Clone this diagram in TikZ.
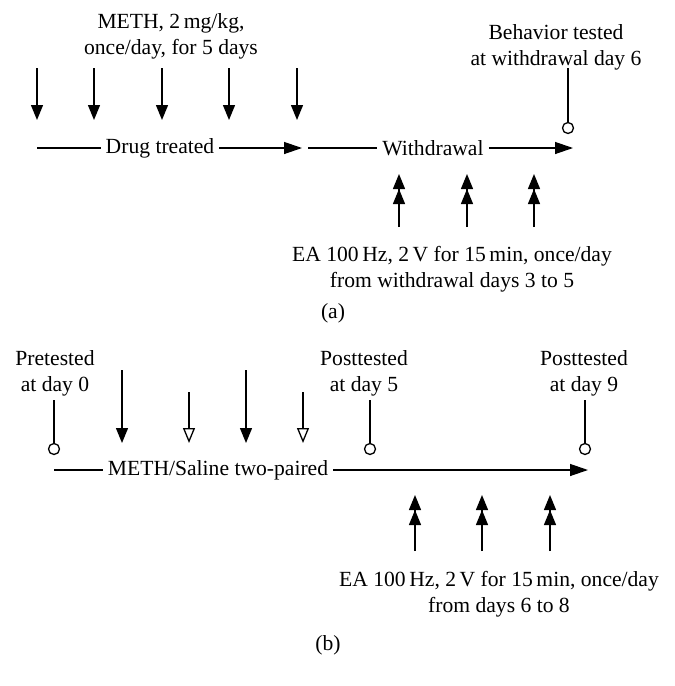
\documentclass[tikz,border=0pt]{standalone}
\usepackage{fontspec}
\setmainfont{Liberation Serif}
\usetikzlibrary{arrows.meta}

\begin{document}
\begin{tikzpicture}[x=1pt,y=-1pt]
		\tikzset{txt/.style = {font=\fontsize{21.6}{26}\selectfont, align=center, inner sep=0pt}}
		\tikzset{onaxis/.style = {font=\fontsize{21.6}{26}\selectfont, inner sep=5pt}}
		\tikzset{axis/.style = {line width=1.3pt}}
		\tikzset{axisarrow/.style = {line width=1.3pt, -{Triangle[length=18pt,width=12pt]}}}
		\tikzset{dose/.style = {line width=1.3pt, -{Triangle[length=15pt,width=12pt]}}}
		\tikzset{saline/.style = {line width=1.3pt, -{Triangle[open,length=15pt,width=12pt,fill=white]}}}
		\tikzset{ea/.style = {line width=1.3pt, -{Triangle[length=15pt,width=12pt]Triangle[length=15pt,width=12pt]}}}
		\tikzset{probe/.style = {circle, draw, line width=1.3pt, fill=white, minimum size=11pt, inner sep=0pt}}
		
		\useasboundingbox (0,0) rectangle (675,686);
		
		% (a)
		\node[txt]  (meth)  at (171,  36) {METH, 2\,mg/kg,\\once/day, for 5 days};
		\node[txt]  (behav) at (556,  47) {Behavior tested\\at withdrawal day 6};
		\node[txt]  (eaA)   at (452, 269) {EA 100\,Hz, 2\,V for 15\,min, once/day\\from withdrawal days 3 to 5};
		\node[txt]  (capA)  at (333, 313) {(a)};
		
		\coordinate (a0) at ( 37, 148);
		\coordinate (a1) at (302, 148);
		\coordinate (a2) at (308, 148);
		\coordinate (a3) at (573, 148);
		\node[onaxis] (drug) at (160, 148) {Drug treated};
		\node[onaxis] (wd)   at (433, 148) {Withdrawal};
		\draw[axis]      (a0) -- (drug);
		\draw[axisarrow] (drug) -- (a1);
		\draw[axis]      (a2) -- (wd);
		\draw[axisarrow] (wd) -- (a3);
		
		\coordinate (d1s) at ( 37,  68); \coordinate (d1e) at ( 37, 120);
		\coordinate (d2s) at ( 94,  68); \coordinate (d2e) at ( 94, 120);
		\coordinate (d3s) at (162,  68); \coordinate (d3e) at (162, 120);
		\coordinate (d4s) at (229,  68); \coordinate (d4e) at (229, 120);
		\coordinate (d5s) at (297,  68); \coordinate (d5e) at (297, 120);
		\draw[dose] (d1s) -- (d1e);
		\draw[dose] (d2s) -- (d2e);
		\draw[dose] (d3s) -- (d3e);
		\draw[dose] (d4s) -- (d4e);
		\draw[dose] (d5s) -- (d5e);
		
		\coordinate (t6) at (568,  68);
		\node[probe] (c6) at (568, 128) {};
		\draw[axis] (t6) -- (c6);
		
		\coordinate (e1s) at (399, 227); \coordinate (e1e) at (399, 174);
		\coordinate (e2s) at (467, 227); \coordinate (e2e) at (467, 174);
		\coordinate (e3s) at (534, 227); \coordinate (e3e) at (534, 174);
		\draw[ea] (e1s) -- (e1e);
		\draw[ea] (e2s) -- (e2e);
		\draw[ea] (e3s) -- (e3e);
		
		% (b)
		\node[txt]  (pre)   at ( 55, 373) {Pretested\\at day 0};
		\node[txt]  (post5) at (364, 373) {Posttested\\at day 5};
		\node[txt]  (post9) at (584, 373) {Posttested\\at day 9};
		\node[txt]  (eaB)   at (499, 594) {EA 100\,Hz, 2\,V for 15\,min, once/day\\from days 6 to 8};
		\node[txt]  (capB)  at (328, 645) {(b)};
		
		\coordinate (b0) at ( 54, 470);
		\coordinate (b1) at (588, 470);
		\node[onaxis] (pair) at (218, 470) {METH/Saline two-paired};
		\draw[axis]      (b0) -- (pair);
		\draw[axisarrow] (pair) -- (b1);
		
		\coordinate (p0) at ( 54, 400);
		\coordinate (p5) at (370, 400);
		\coordinate (p9) at (585, 400);
		\node[probe] (c0) at ( 54, 449) {};
		\node[probe] (c5) at (370, 449) {};
		\node[probe] (c9) at (585, 449) {};
		\draw[axis] (p0) -- (c0);
		\draw[axis] (p5) -- (c5);
		\draw[axis] (p9) -- (c9);
		
		\coordinate (m1s) at (122, 370); \coordinate (m1e) at (122, 443);
		\coordinate (m2s) at (246, 370); \coordinate (m2e) at (246, 443);
		\coordinate (s1s) at (189, 392); \coordinate (s1e) at (189, 443);
		\coordinate (s2s) at (303, 392); \coordinate (s2e) at (303, 443);
		\draw[dose]   (m1s) -- (m1e);
		\draw[dose]   (m2s) -- (m2e);
		\draw[saline] (s1s) -- (s1e);
		\draw[saline] (s2s) -- (s2e);
		
		\coordinate (f1s) at (415, 551); \coordinate (f1e) at (415, 495);
		\coordinate (f2s) at (482, 551); \coordinate (f2e) at (482, 495);
		\coordinate (f3s) at (550, 551); \coordinate (f3e) at (550, 495);
		\draw[ea] (f1s) -- (f1e);
		\draw[ea] (f2s) -- (f2e);
		\draw[ea] (f3s) -- (f3e);
\end{tikzpicture}
\end{document}
